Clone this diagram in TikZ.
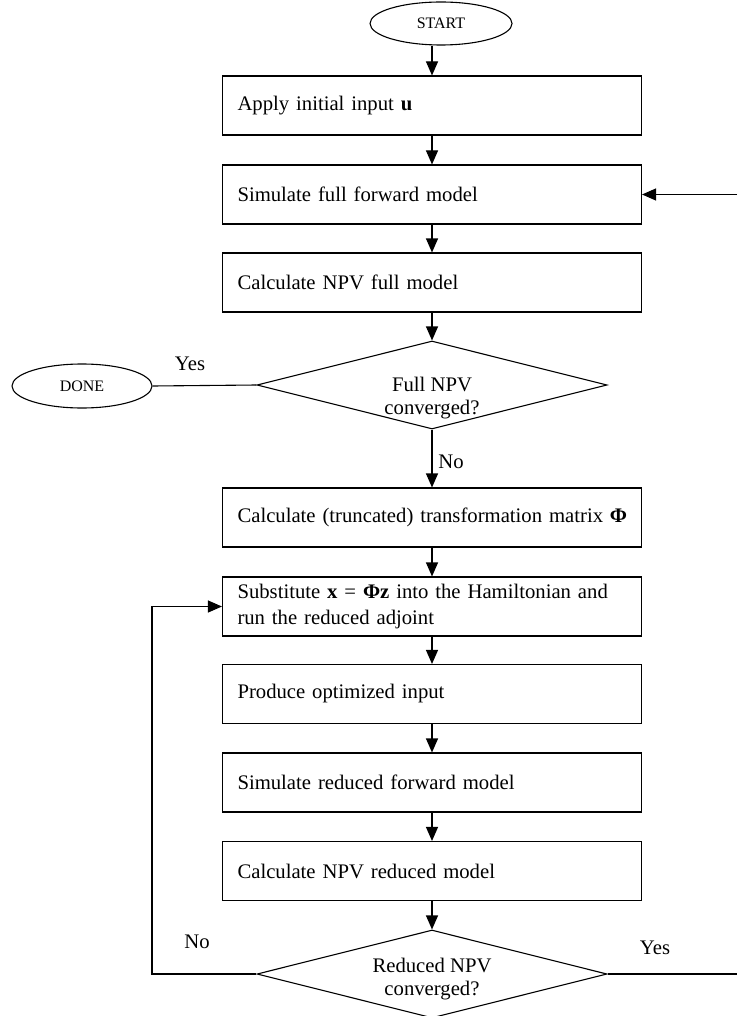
\documentclass[tikz,border=0pt]{standalone}
\usepackage{fontspec}
\setmainfont{Liberation Serif}
\usetikzlibrary{shapes.geometric, arrows.meta}

\begin{document}
\begin{tikzpicture}[x = 1pt, y = -1pt,
	box/.style = {draw, line width = 1.1pt, minimum width = 419pt, minimum height = 59pt,
		text width = 389pt, inner xsep = 15pt, align = left, font = \fontsize{20.7}{26}\selectfont},
	decision/.style = {draw, diamond, line width = 1.1pt, minimum width = 350pt,
		minimum height = 88pt, aspect = 4, inner sep = 0pt},
	dtext/.style = {align = center, font = \fontsize{20.7}{23}\selectfont},
	term/.style = {draw, ellipse, line width = 1.1pt, inner sep = 0pt, font = \fontsize{16}{18}\selectfont},
	lbl/.style = {font = \fontsize{20.7}{24}\selectfont},
	arr/.style = {line width = 1.1pt, -{Triangle[length = 14pt, width = 12pt]}},
	ln/.style = {line width = 1.1pt}]
	\useasboundingbox (0, 0) rectangle (737, 1016);

	% terminals
	\node[term, minimum width = 142pt, minimum height = 43pt] (start) at (441, 23.5) {START};
	\node[term, minimum width = 140pt, minimum height = 44pt] (done) at (82, 386) {DONE};

	% process boxes
	\node[box] (b1) at (432, 105.5) {Apply initial input \textbf{u}};
	\node[box] (b2) at (432, 194.5) {Simulate full forward model};
	\node[box] (b3) at (432, 282.5) {Calculate NPV full model};
	\node[box] (b4) at (432, 517.5) {\mbox{Calculate (truncated) transformation matrix \textbf{Φ}}};
	\node[box] (b5) at (432, 606.5) {Substitute \textbf{x} = \textbf{Φz} into the Hamiltonian and\\run the reduced adjoint};
	\node[box] (b6) at (432, 694) {Produce optimized input};
	\node[box] (b7) at (432, 782.5) {Simulate reduced forward model};
	\node[box] (b8) at (432, 871) {Calculate NPV reduced model};

	% decisions
	\node[decision] (d1) at (432, 385) {};
	\node[dtext] (d1txt) at (432, 398) {Full NPV\\converged?};
	\node[decision] (d2) at (432, 974) {};
	\node[dtext] (d2txt) at (432, 979) {Reduced NPV\\converged?};

	% free ends at the right border
	\coordinate (rin) at (737, 194.5);
	\coordinate (rout) at (737, 974);

	\draw[arr] (start.south -| b1.north) -- (b1.north);
	\foreach \a/\b in {b1/b2, b2/b3, b4/b5, b5/b6, b6/b7, b7/b8}{
		\draw[arr] (\a.south) -- (\b.north);
		};
	\draw[arr] (b3.south) -- (d1.north);
	\draw[arr] (b8.south) -- (d2.north);
	\draw[arr] (d1.south) -- (b4.north);
	\draw[ln] (d1.west) -- (done.east);
	\draw[arr] (d2.west) -- (152, 974) |- (b5.west);
	\draw[ln] (d2.east) -- (rout);
	\draw[arr] (rin) -- (b2.east);

	% branch labels
	\node[lbl] (yes1) at (190, 364) {Yes};
	\node[lbl] (no1) at (451, 462) {No};
	\node[lbl] (no2) at (197, 942) {No};
	\node[lbl] (yes2) at (655, 948) {Yes};
\end{tikzpicture}
\end{document}
